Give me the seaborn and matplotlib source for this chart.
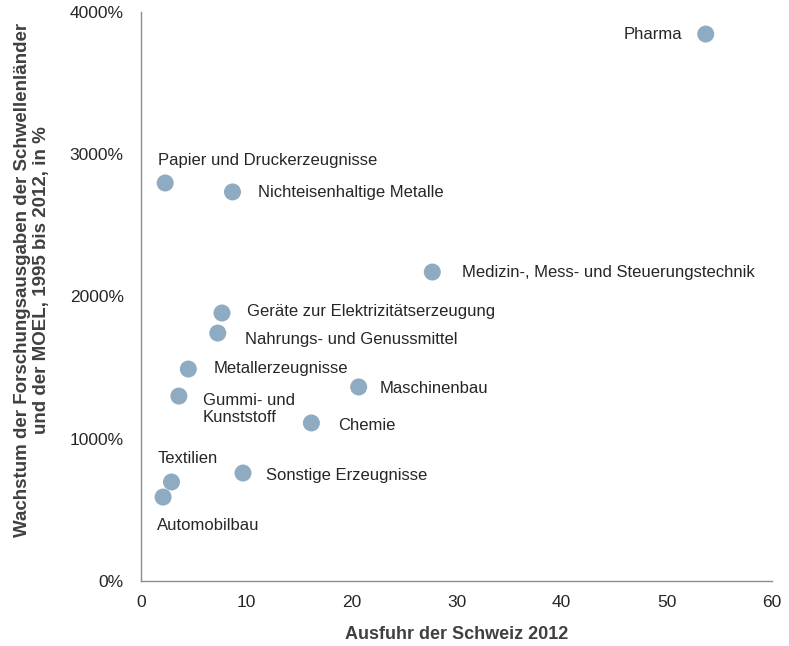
import matplotlib
matplotlib.use("Agg")
import matplotlib.pyplot as plt
from matplotlib.ticker import FuncFormatter, MultipleLocator
import seaborn as sns
import pandas as pd

# Sectors, Swiss exports 2012 and R&D growth in emerging/CEE economies
sectors = [
    "Pharma", "Papier und Druckerzeugnisse", "Nichteisenhaltige Metalle",
    "Medizin-, Mess- und Steuerungstechnik", "Geräte zur Elektrizitätserzeugung",
    "Nahrungs- und Genussmittel", "Metallerzeugnisse", "Gummi- und\nKunststoff",
    "Maschinenbau", "Chemie", "Sonstige Erzeugnisse", "Textilien", "Automobilbau",
]
exports_2012 = [53.7, 2.3, 8.7, 27.7, 7.7, 7.3, 4.5, 3.6, 20.7, 16.2, 9.7, 2.9, 2.1]
rd_growth_pct = [3845, 2798, 2735, 2172, 1884, 1743, 1490, 1300, 1364, 1111, 759, 696, 590]

# label placement (pixel offsets from each point) and alignment
label_offsets = [(-23, 0), (-7, 22), (26, -1), (30, 0), (25, 2), (27, -6), (25, 1),
                 (24, -13), (21, -2), (27, -3), (23, -2), (-14, 23), (-6, -28)]
label_ha = ["right", "left", "left", "left", "left", "left", "left",
            "left", "left", "left", "left", "left", "left"]

df = pd.DataFrame({"sector": sectors, "x": exports_2012, "y": rd_growth_pct})

sns.set_theme(style="white")
plt.rcParams["font.family"] = ["Liberation Sans", "DejaVu Sans"]

fig = plt.figure(figsize=(7.89, 6.46), dpi=100)
ax = fig.add_axes([141 / 789, 1 - 581 / 646, 631 / 789, 569 / 646])

sns.scatterplot(data=df, x="x", y="y", ax=ax, s=150, color="#8eabc2",
                edgecolor="none", linewidth=0, zorder=3)

for name, xv, yv, off, ha in zip(sectors, exports_2012, rd_growth_pct, label_offsets, label_ha):
    ax.annotate(name, (xv, yv), xytext=off, textcoords="offset pixels",
                ha=ha, va="center", fontsize=12, color="#262626", linespacing=1.1)

ax.set_xlim(0, 60)
ax.set_ylim(0, 4000)
ax.xaxis.set_major_locator(MultipleLocator(10))
ax.yaxis.set_major_locator(MultipleLocator(1000))
ax.yaxis.set_major_formatter(FuncFormatter(lambda v, p: f"{int(v)}%"))

for side in ["top", "right"]:
    ax.spines[side].set_visible(False)
for side in ["left", "bottom"]:
    ax.spines[side].set_color("#8c8c8c")
    ax.spines[side].set_linewidth(1.0)

ax.tick_params(axis="both", which="major", direction="out", length=3, width=1,
               color="#8c8c8c", labelsize=12.5, labelcolor="#262626")
ax.tick_params(axis="y", pad=9.5)
ax.tick_params(axis="x", pad=7)

ax.set_xlabel("Ausfuhr der Schweiz 2012", fontsize=13, fontweight="bold", color="#404040")
ax.set_ylabel("Wachstum der Forschungsausgaben der Schwellenländer\nund der MOEL, 1995 bis 2012, in %",
              fontsize=13.5, fontweight="bold", color="#404040", linespacing=1.15)
ax.xaxis.set_label_coords(0.5, -0.079)
ax.yaxis.set_label_coords(-0.145, 0.529)

fig.savefig("out.png", dpi=100)
